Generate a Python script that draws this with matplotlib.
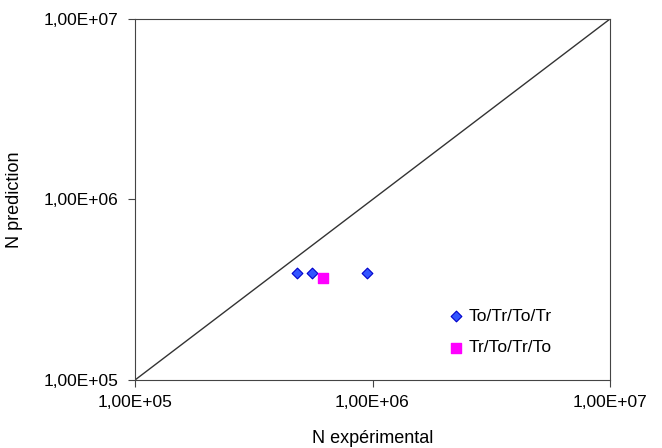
import matplotlib
matplotlib.use("Agg")
import matplotlib.pyplot as plt
from matplotlib.ticker import FixedLocator, NullLocator, FixedFormatter

plt.rcParams['font.family'] = ['Liberation Sans', 'DejaVu Sans']

# données
exp_totr = [4.81e5, 5.56e5, 9.48e5]
pred_totr = [3.92e5, 3.92e5, 3.92e5]
exp_trto = [6.17e5]
pred_trto = [3.67e5]
diag = [1e5, 1e7]
ticks = [1e5, 1e6, 1e7]
tick_labels = ["1,00E+05", "1,00E+06", "1,00E+07"]

fig = plt.figure(figsize=(6.62, 4.48), dpi=100)
ax = fig.add_axes([135 / 662, 1 - 380 / 448, 475 / 662, 361 / 448])

ax.plot(diag, diag, color='#333333', linewidth=1.0)
ax.scatter(exp_totr, pred_totr, marker='D', s=30, color='#3355ff',
           edgecolors='#0000cc', linewidths=0.8, label='To/Tr/To/Tr', zorder=3)
ax.scatter(exp_trto, pred_trto, marker='s', s=45, color='#ff00ff',
           edgecolors='#ff00ff', label='Tr/To/Tr/To', zorder=3)

ax.set_xscale('log')
ax.set_yscale('log')
ax.set_xlim(1e5, 1e7)
ax.set_ylim(1e5, 1e7)
for a in (ax.xaxis, ax.yaxis):
    a.set_major_locator(FixedLocator(ticks))
    a.set_major_formatter(FixedFormatter(tick_labels))
    a.set_minor_locator(NullLocator())
ax.tick_params(direction='out', length=5, width=0.8, labelsize=12.5, color='#444444')
ax.tick_params(axis='x', pad=6)
ax.tick_params(axis='y', pad=7)

for s in ax.spines.values():
    s.set_color('#444444')
    s.set_linewidth(0.8)

ax.set_xlabel('N expérimental', fontsize=13, labelpad=14)
ax.set_ylabel('N prediction', fontsize=13)
ax.yaxis.set_label_coords(-0.236, 0.5)

ax.legend(loc='lower right', bbox_to_anchor=(0.91, 0.025), frameon=False,
          fontsize=12.5, handletextpad=0.2, labelspacing=0.95, handlelength=1.0)

fig.savefig('out.png', dpi=100)
